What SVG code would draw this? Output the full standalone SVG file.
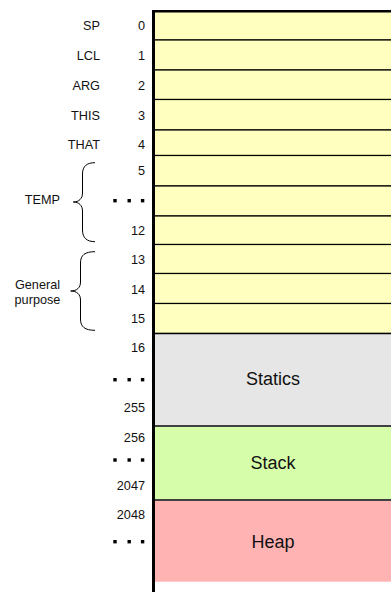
<svg xmlns="http://www.w3.org/2000/svg" width="391" height="592" viewBox="0 0 391 592">
  <style>
    text { font-family: "Liberation Sans", Arial, sans-serif; fill: #111; }
    .num { font-size: 12.7px; text-anchor: end; }
    .lbl { font-size: 12.7px; text-anchor: end; }
    .mid { font-size: 12.7px; text-anchor: middle; }
    .big { font-size: 18px; text-anchor: middle; }
    .word { fill: #ffffc0; stroke: #000; stroke-width: 1.2; }
    .seg { stroke: #404040; stroke-width: 2; }
    .brace { fill: none; stroke: #000; stroke-width: 1; }
    .dot { fill: #000; }
  </style>
  <defs>
    <g id="dots">
      <rect class="dot" x="0" y="0" width="3.4" height="3.4"/>
      <rect class="dot" x="14.2" y="0" width="3.4" height="3.4"/>
      <rect class="dot" x="27.6" y="0" width="3.4" height="3.4"/>
    </g>
  </defs>

  <!-- single-word registers, RAM[0..15] -->
  <g id="ram-0"><rect class="word" x="153" y="11" width="240" height="29"/><text class="lbl" x="100" y="30">SP</text><text class="num" x="145" y="30">0</text></g>
  <g id="ram-1"><rect class="word" x="153" y="40" width="240" height="30"/><text class="lbl" x="100" y="60">LCL</text><text class="num" x="145" y="60">1</text></g>
  <g id="ram-2"><rect class="word" x="153" y="70" width="240" height="29.5"/><text class="lbl" x="100" y="90">ARG</text><text class="num" x="145" y="90">2</text></g>
  <g id="ram-3"><rect class="word" x="153" y="99.5" width="240" height="30.5"/><text class="lbl" x="100" y="119.5">THIS</text><text class="num" x="145" y="119.5">3</text></g>
  <g id="ram-4"><rect class="word" x="153" y="130" width="240" height="25.5"/><text class="lbl" x="100" y="149">THAT</text><text class="num" x="145" y="149">4</text></g>
  <g id="ram-5"><rect class="word" x="153" y="155.5" width="240" height="30.5"/><text class="num" x="145" y="174.5">5</text></g>
  <g id="ram-6-11"><rect class="word" x="153" y="186" width="240" height="30"/><use href="#dots" x="113.3" y="199"/></g>
  <g id="ram-12"><rect class="word" x="153" y="216" width="240" height="28.5"/><text class="num" x="145" y="234.5">12</text></g>
  <g id="ram-13"><rect class="word" x="153" y="244.5" width="240" height="29"/><text class="num" x="145" y="263.5">13</text></g>
  <g id="ram-14"><rect class="word" x="153" y="273.5" width="240" height="30"/><text class="num" x="145" y="293.5">14</text></g>
  <g id="ram-15"><rect class="word" x="153" y="303.5" width="240" height="30"/><text class="num" x="145" y="323">15</text></g>

  <!-- segments -->
  <g id="statics">
    <rect x="153" y="333.5" width="240" height="92.5" fill="#e6e6e6"/>
    <line x1="153" y1="333.5" x2="391" y2="333.5" stroke="#000" stroke-width="1.5"/>
    <text class="big" x="273" y="385">Statics</text>
    <text class="num" x="145" y="352.3">16</text>
    <use href="#dots" x="113.3" y="378"/>
    <text class="num" x="145" y="412.3">255</text>
  </g>
  <g id="stack">
    <rect x="153" y="426" width="240" height="74" fill="#d6fda9"/>
    <line class="seg" x1="153" y1="426" x2="391" y2="426"/>
    <text class="big" x="273" y="469">Stack</text>
    <text class="num" x="145" y="441.7">256</text>
    <use href="#dots" x="113.3" y="458.3"/>
    <text class="num" x="145" y="490">2047</text>
  </g>
  <g id="heap">
    <rect x="153" y="500" width="240" height="81.7" fill="#ffb3b3"/>
    <line class="seg" x1="153" y1="500" x2="391" y2="500"/>
    <text class="big" x="273" y="547.5">Heap</text>
    <text class="num" x="145" y="519.3">2048</text>
    <use href="#dots" x="113.3" y="540"/>
  </g>

  <!-- memory frame -->
  <g id="frame">
    <line x1="152" y1="11.2" x2="391" y2="11.2" stroke="#000" stroke-width="2.5"/>
    <line x1="153.5" y1="10" x2="153.5" y2="592" stroke="#000" stroke-width="3"/>
  </g>

  <!-- group braces -->
  <g id="connectors">
    <path class="brace" d="M95,162.7 C87,162.7 82.5,166 82.5,174 L82.5,193 C82.5,198.5 79,202 73.3,202 C79,202 82.5,205.5 82.5,211 L82.5,230 C82.5,238 87,241.7 95,241.7"/>
    <path class="brace" d="M95,251.7 C85,251.7 80.5,255 80.5,263 L80.5,282 C80.5,287.5 77,291 70.7,291 C77,291 80.5,294.5 80.5,300 L80.5,319 C80.5,327 85,330.3 95,330.3"/>
  </g>

  <g id="temp-label"><text class="lbl" x="60" y="204">TEMP</text></g>
  <g id="general-label">
    <text class="mid" x="37.5" y="289.3">General</text>
    <text class="mid" x="37.5" y="304.3">purpose</text>
  </g>
</svg>
